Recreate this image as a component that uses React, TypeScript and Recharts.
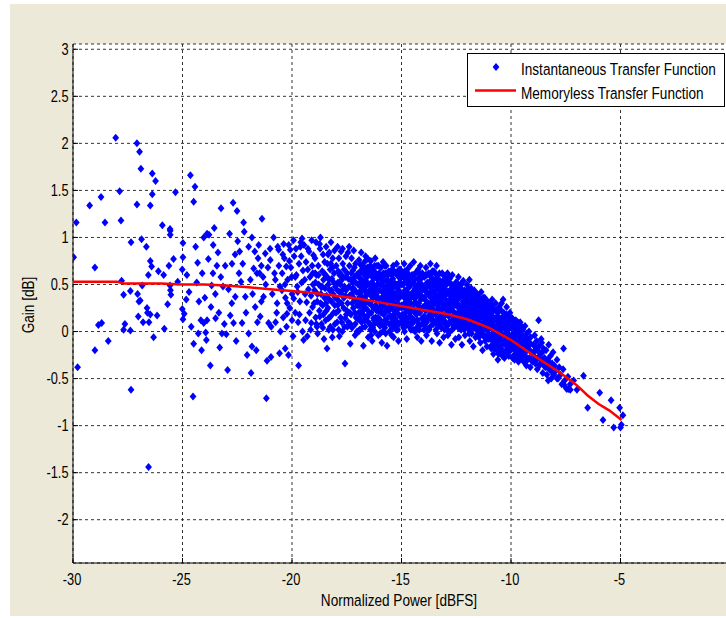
import { ScatterChart, Scatter, XAxis, YAxis, CartesianGrid, Legend } from 'recharts'

const FONT = '"Liberation Sans", Arial, sans-serif'

const xTicks = [-30, -25, -20, -15, -10, -5]
const yTicks = [-2, -1.5, -1, -0.5, 0, 0.5, 1, 1.5, 2, 2.5, 3]
const xDomain = [-30, 0]
const yDomain = [-2.46, 3.056]

const seriesNames = ['Instantaneous Transfer Function', 'Memoryless Transfer Function']

// sparse low-power points, [power dBFS, gain dB]
const sparsePoints: [number, number][] = [
  [-29.97, 0.79], [-29.85, 1.16], [-29.79, -0.38], [-29.24, 1.34], [-29.0, 0.68], [-29.0, -0.2], [-28.84, 0.07],
  [-28.69, 0.09], [-28.72, 1.43], [-28.54, 1.16], [-28.39, -0.1], [-28.05, 2.06], [-27.87, 1.49], [-27.81, 1.18],
  [-27.78, 0.54], [-27.69, 0.39], [-27.63, 0.08], [-27.69, 0.02], [-27.35, 0.95], [-27.38, 0.43], [-27.38, 0.01],
  [-27.35, -0.62], [-27.08, 2.0], [-26.96, 1.91], [-26.9, 1.73], [-27.08, 1.35], [-27.05, 0.4], [-26.99, 0.32],
  [-26.93, 0.33], [-27.02, 0.16], [-26.8, 0.1], [-26.87, 0.98], [-26.65, 0.9], [-26.84, 0.49], [-26.62, 0.25],
  [-26.6, 0.2], [-26.53, 0.1], [-26.47, 0.18], [-26.47, 0.75], [-26.41, 0.69], [-26.56, 0.6], [-26.47, 1.34],
  [-26.38, 1.46], [-26.38, 1.68], [-26.23, 1.6], [-26.32, -0.06], [-26.16, 0.17], [-26.1, 0.64], [-25.92, 1.13],
  [-25.86, 0.6], [-25.83, 0.03], [-25.68, 0.29], [-25.62, 0.7], [-25.56, 1.03], [-25.56, 1.07], [-25.57, 1.09],
  [-25.41, 0.77], [-25.57, 0.49], [-25.55, 0.44], [-25.53, 0.39], [-25.32, 1.48], [-25.22, 0.53], [-25.01, 0.66],
  [-26.55, -1.44],
  [-24.64, 1.66], [-24.43, 1.54], [-24.49, 1.38], [-24.98, 0.94], [-24.98, 0.79], [-25.01, 0.24], [-24.92, 0.19],
  [-24.98, 0.13], [-24.83, 0.34], [-24.52, -0.69], [-24.49, -0.13], [-24.28, -0.02], [-24.31, 0.73], [-24.13, -0.2],
  [-24.16, 0.12], [-24.25, 0.32], [-24.03, 1.0], [-24.03, 0.09], [-23.94, -0.01], [-23.91, -0.09], [-23.88, 0.12],
  [-23.82, 0.77], [-23.88, 1.04], [-23.79, 1.03], [-23.73, -0.36], [-23.67, 0.49], [-23.61, 0.62], [-23.55, 1.1],
  [-23.43, 0.7], [-23.49, 0.14], [-23.34, 0.2], [-23.3, -0.17], [-23.24, 1.31], [-23.15, 0.48], [-23.09, 0.08],
  [-24.8, 0.6], [-24.7, 0.42], [-24.6, 0.05], [-24.4, 0.9], [-24.35, 0.52], [-24.1, 0.62], [-23.98, 0.36],
  [-23.7, 0.26], [-23.6, 0.92], [-23.5, 0.4], [-23.38, 0.84], [-23.25, 0.58], [-23.2, -0.02], [-23.05, 0.7],
]

// medium density, -23 .. -19.5 dBFS
const midPoints: [number, number][] = [
  [-23.0, -0.03], [-22.94, -0.41], [-22.85, 1.04], [-22.82, 0.17], [-22.74, 0.72], [-22.69, 1.37], [-22.67, 0.09],
  [-22.59, 0.37], [-22.51, 1.28], [-22.48, 0.96], [-22.39, 0.85], [-22.33, 0.53], [-22.28, 0.09], [-22.21, 1.16],
  [-22.18, 1.06], [-22.13, 0.37], [-22.05, -0.25], [-21.98, -0.02], [-21.98, 0.9], [-21.87, -0.44], [-21.83, 1.0],
  [-21.83, -0.16], [-21.75, 0.67], [-21.68, 0.26], [-21.63, -0.2], [-21.52, 0.92], [-21.48, 0.62], [-21.45, 0.16],
  [-21.37, 1.2], [-21.32, 0.58], [-21.3, 0.37], [-21.22, 0.83], [-21.17, -0.71], [-21.14, -0.31], [-21.07, 0.09],
  [-20.99, 0.76], [-20.96, -0.27], [-20.84, 1.0], [-20.76, 0.55], [-20.68, 0.3], [-20.61, 0.87], [-20.57, -0.23],
  [-20.53, 0.0], [-20.46, 0.44], [-20.38, 0.93], [-20.31, -0.18], [-20.26, 0.69], [-20.23, 0.19], [-20.16, -0.25],
  [-20.08, 0.87], [-20.0, 0.12], [-19.93, 0.97], [-19.85, 0.58], [-19.7, -0.36], [-19.62, 0.9], [-19.54, 0.99],
  [-19.47, -0.09],
  [-22.9, 0.45], [-22.75, 0.3], [-22.6, 0.82], [-22.55, -0.1], [-22.42, 0.62], [-22.25, 0.72], [-22.1, 0.2],
  [-21.9, 0.55], [-21.7, 0.85], [-21.58, 0.1], [-21.4, 0.7], [-21.2, 0.5], [-21.1, 0.68], [-21.0, 0.88],
  [-20.95, 0.05], [-20.9, 0.4], [-20.8, 0.62], [-20.75, 0.1], [-20.7, 0.2], [-20.65, 0.9], [-20.6, 0.7],
  [-20.55, 0.48], [-21.55, 0.78], [-21.6, 0.62], [-21.8, 0.4], [-21.4, 0.32],
  [-20.45, 0.62], [-20.4, 0.15], [-20.35, 0.78], [-20.3, 0.36], [-20.25, 0.05], [-20.2, 0.55], [-20.15, 0.92],
  [-20.1, 0.25], [-20.05, 0.68], [-20.0, 0.4], [-19.95, -0.05], [-19.9, 0.8], [-19.85, 0.2], [-19.8, 0.6],
  [-19.76, 0.48], [-19.72, 0.1], [-19.68, 0.72], [-19.64, 0.32], [-19.6, 0.95], [-19.56, 0.52], [-19.52, 0.0],
  [-19.5, 0.65], [-20.42, 0.82], [-20.32, 0.5], [-20.22, 0.3], [-20.12, 0.75], [-20.02, 0.58], [-19.92, 0.35],
  [-19.82, 0.88], [-19.74, 0.42], [-19.66, 0.18], [-19.58, 0.8],
]

// dense cloud, -19.5 .. -14.5 dBFS
const denseLow: [number, number][] = [
  [-19.45, 0.92], [-19.42, 0.55], [-19.38, 0.12], [-19.36, 0.74], [-19.33, 0.31], [-19.3, -0.05], [-19.28, 0.66],
  [-19.25, 0.45], [-19.22, 0.85], [-19.2, 0.2], [-19.18, 0.58], [-19.15, 0.02], [-19.13, 0.38], [-19.1, 0.97],
  [-19.08, 0.7], [-19.06, 0.26], [-19.04, 0.5], [-19.02, 0.81], [-19.4, 0.4], [-19.12, 0.09], [-19.27, 0.88],
  [-19.05, 0.62],
  [-18.97, 0.44], [-18.95, 0.78], [-18.92, 0.15], [-18.9, 0.95], [-18.88, 0.6], [-18.85, 0.32], [-18.83, -0.02],
  [-18.8, 0.7], [-18.78, 0.5], [-18.75, 0.22], [-18.72, 0.88], [-18.7, 1.0], [-18.68, 0.4], [-18.65, 0.08],
  [-18.62, 0.64], [-18.6, 0.28], [-18.58, 0.82], [-18.56, 0.55], [-18.54, -0.08], [-18.52, 0.36], [-18.94, 0.62],
  [-18.86, 0.05], [-18.74, 0.93], [-18.66, 0.47], [-18.57, 0.18], [-18.51, 0.74],
  [-18.48, 0.6], [-18.46, 0.12], [-18.44, 0.9], [-18.42, 0.38], [-18.4, -0.18], [-18.38, 0.72], [-18.36, 0.25],
  [-18.34, 0.5], [-18.32, 0.02], [-18.3, 0.84], [-18.28, 0.44], [-18.26, 0.66], [-18.24, 0.16], [-18.22, 0.95],
  [-18.2, 0.32], [-18.18, 0.56], [-18.16, -0.06], [-18.14, 0.78], [-18.12, 0.4], [-18.1, 0.2], [-18.08, 0.62],
  [-18.06, 0.86], [-18.04, 0.08], [-18.02, 0.48], [-18.45, 0.3], [-18.35, 0.82], [-18.25, 0.05], [-18.15, 0.68],
  [-18.05, 0.28], [-18.3, 0.55],
  [-17.98, 0.7], [-17.96, 0.35], [-17.94, 0.1], [-17.92, 0.9], [-17.9, 0.52], [-17.88, 0.22], [-17.86, 0.78],
  [-17.84, -0.05], [-17.82, 0.42], [-17.8, 0.62], [-17.78, 0.15], [-17.76, 0.85], [-17.74, 0.3], [-17.72, 0.55],
  [-17.7, 0.0], [-17.68, 0.72], [-17.66, 0.45], [-17.64, 0.25], [-17.62, 0.66], [-17.6, 0.05], [-17.58, -0.34],
  [-17.56, 0.38], [-17.54, 0.8], [-17.52, 0.18], [-17.97, 0.5], [-17.91, 0.28], [-17.83, 0.6], [-17.75, 0.4],
  [-17.69, 0.88], [-17.61, 0.48], [-17.55, 0.58], [-17.87, 0.02],
  [-17.48, 0.62], [-17.46, 0.3], [-17.44, 0.84], [-17.42, 0.1], [-17.4, 0.48], [-17.38, 0.7], [-17.36, 0.2],
  [-17.34, -0.13], [-17.32, 0.55], [-17.3, 0.38], [-17.28, 0.78], [-17.26, 0.04], [-17.24, 0.45], [-17.22, 0.65],
  [-17.2, 0.25], [-17.18, 0.86], [-17.16, 0.35], [-17.14, 0.58], [-17.12, -0.04], [-17.1, 0.72], [-17.08, 0.15],
  [-17.06, 0.42], [-17.04, 0.6], [-17.02, 0.28], [-17.47, 0.05], [-17.39, 0.9], [-17.31, 0.18], [-17.23, 0.52],
  [-17.15, 0.68], [-17.07, 0.33], [-17.27, 0.4], [-17.11, 0.08],
  [-16.98, 0.5], [-16.96, 0.2], [-16.94, 0.76], [-16.92, 0.02], [-16.9, 0.4], [-16.88, 0.62], [-16.86, 0.3],
  [-16.84, 0.84], [-16.82, 0.1], [-16.8, 0.55], [-16.78, 0.36], [-16.76, 0.7], [-16.74, -0.15], [-16.72, 0.46],
  [-16.7, 0.24], [-16.68, 0.6], [-16.66, 0.05], [-16.64, 0.8], [-16.62, 0.32], [-16.6, 0.5], [-16.58, 0.15],
  [-16.56, 0.68], [-16.54, 0.4], [-16.52, -0.06], [-16.97, 0.35], [-16.89, 0.12], [-16.81, 0.66], [-16.73, 0.28],
  [-16.65, 0.44], [-16.57, 0.58], [-16.85, 0.48], [-16.69, 0.74],
  [-16.48, 0.3], [-16.46, 0.62], [-16.44, 0.08], [-16.42, 0.45], [-16.4, 0.75], [-16.38, 0.2], [-16.36, 0.52],
  [-16.34, -0.1], [-16.32, 0.36], [-16.3, 0.66], [-16.28, 0.14], [-16.26, 0.42], [-16.24, 0.58], [-16.22, 0.0],
  [-16.2, 0.78], [-16.18, 0.28], [-16.16, 0.48], [-16.14, 0.1], [-16.12, 0.7], [-16.1, 0.34], [-16.08, 0.55],
  [-16.06, -0.04], [-16.04, 0.22], [-16.02, 0.62], [-16.47, 0.5], [-16.39, 0.32], [-16.31, 0.04], [-16.23, 0.7],
  [-16.15, 0.4], [-16.07, 0.15], [-16.27, 0.25], [-16.11, 0.5],
  [-15.98, 0.44], [-15.96, 0.12], [-15.94, 0.68], [-15.92, 0.3], [-15.9, -0.12], [-15.88, 0.52], [-15.86, 0.2],
  [-15.84, 0.74], [-15.82, 0.38], [-15.8, 0.05], [-15.78, 0.6], [-15.76, 0.26], [-15.74, 0.46], [-15.72, -0.02],
  [-15.7, 0.7], [-15.68, 0.34], [-15.66, -0.15], [-15.64, 0.55], [-15.62, 0.15], [-15.6, 0.42], [-15.58, 0.64],
  [-15.56, 0.08], [-15.54, 0.3], [-15.52, 0.5], [-15.97, 0.58], [-15.89, 0.36], [-15.81, 0.18], [-15.73, 0.62],
  [-15.65, 0.4], [-15.57, 0.22], [-15.85, 0.0], [-15.69, 0.1],
  [-15.48, 0.36], [-15.46, 0.6], [-15.44, 0.1], [-15.42, 0.46], [-15.4, 0.24], [-15.38, 0.7], [-15.36, -0.06],
  [-15.34, 0.52], [-15.32, 0.3], [-15.3, 0.14], [-15.28, 0.62], [-15.26, 0.4], [-15.24, 0.02], [-15.22, 0.72],
  [-15.2, 0.2], [-15.18, 0.48], [-15.16, 0.34], [-15.14, -0.1], [-15.12, 0.58], [-15.1, 0.08], [-15.08, 0.42],
  [-15.06, 0.66], [-15.04, 0.26], [-15.02, 0.5], [-15.47, 0.16], [-15.39, 0.56], [-15.31, 0.4], [-15.23, 0.28],
  [-15.15, 0.62], [-15.07, 0.16], [-15.35, 0.05], [-15.19, 0.1],
  [-14.98, 0.38], [-14.96, 0.62], [-14.94, 0.12], [-14.92, 0.5], [-14.9, 0.26], [-14.88, 0.72], [-14.86, 0.0],
  [-14.84, 0.44], [-14.82, 0.2], [-14.8, 0.58], [-14.78, 0.32], [-14.76, -0.08], [-14.74, 0.66], [-14.72, 0.1],
  [-14.7, 0.46], [-14.68, 0.28], [-14.66, 0.55], [-14.64, 0.05], [-14.62, 0.38], [-14.6, 0.7], [-14.58, 0.16],
  [-14.56, 0.5], [-14.54, 0.24], [-14.52, 0.6], [-14.97, 0.18], [-14.89, 0.4], [-14.81, 0.06], [-14.73, 0.52],
  [-14.65, 0.34], [-14.57, 0.02], [-14.85, 0.64], [-14.69, 0.15],
]

// dense cloud, -14.5 .. -9 dBFS
const denseHigh: [number, number][] = [
  [-14.48, 0.42], [-14.46, 0.1], [-14.44, 0.74], [-14.42, 0.3], [-14.4, 0.55], [-14.38, 0.0], [-14.36, 0.36],
  [-14.34, 0.62], [-14.32, 0.18], [-14.3, 0.48], [-14.28, -0.06], [-14.26, 0.28], [-14.24, 0.66], [-14.22, 0.08],
  [-14.2, 0.4], [-14.18, 0.56], [-14.16, 0.2], [-14.14, 0.7], [-14.12, 0.34], [-14.1, -0.1], [-14.08, 0.5],
  [-14.06, 0.14], [-14.04, 0.44], [-14.02, 0.26], [-14.47, 0.6], [-14.39, 0.2], [-14.31, 0.04], [-14.23, 0.5],
  [-14.15, 0.38], [-14.07, 0.6], [-14.35, 0.45], [-14.19, 0.02],
  [-13.98, 0.36], [-13.96, 0.58], [-13.94, 0.06], [-13.92, 0.44], [-13.9, 0.22], [-13.88, 0.68], [-13.86, -0.04],
  [-13.84, 0.3], [-13.82, 0.52], [-13.8, 0.14], [-13.78, 0.4], [-13.76, 0.62], [-13.74, 0.02], [-13.72, 0.26],
  [-13.7, 0.48], [-13.68, 0.72], [-13.66, 0.16], [-13.64, 0.36], [-13.62, -0.1], [-13.6, 0.56], [-13.58, 0.2],
  [-13.56, 0.42], [-13.54, 0.08], [-13.52, 0.64], [-13.97, 0.16], [-13.89, 0.5], [-13.81, 0.28], [-13.73, 0.38],
  [-13.65, 0.58], [-13.57, 0.3], [-13.85, 0.1], [-13.69, 0.05],
  [-13.48, 0.3], [-13.46, 0.52], [-13.44, 0.1], [-13.42, 0.38], [-13.4, 0.7], [-13.38, -0.02], [-13.36, 0.24],
  [-13.34, 0.46], [-13.32, 0.6], [-13.3, 0.14], [-13.28, 0.34], [-13.26, -0.12], [-13.24, 0.54], [-13.22, 0.2],
  [-13.2, 0.42], [-13.18, 0.04], [-13.16, 0.3], [-13.14, 0.62], [-13.12, 0.16], [-13.1, 0.48], [-13.08, -0.06],
  [-13.06, 0.26], [-13.04, 0.4], [-13.02, 0.56], [-13.47, 0.2], [-13.39, 0.46], [-13.31, 0.06], [-13.23, 0.34],
  [-13.15, 0.52], [-13.07, 0.1], [-13.35, 0.28], [-13.19, 0.36],
  [-12.98, 0.34], [-12.96, 0.08], [-12.94, 0.5], [-12.92, 0.22], [-12.9, 0.62], [-12.88, -0.04], [-12.86, 0.4],
  [-12.84, 0.16], [-12.82, 0.3], [-12.8, 0.56], [-12.78, 0.0], [-12.76, 0.44], [-12.74, 0.24], [-12.72, -0.14],
  [-12.7, 0.36], [-12.68, 0.6], [-12.66, 0.12], [-12.64, 0.28], [-12.62, 0.48], [-12.6, 0.04], [-12.58, 0.2],
  [-12.56, 0.4], [-12.54, -0.08], [-12.52, 0.52], [-12.97, 0.44], [-12.89, 0.26], [-12.81, 0.1], [-12.73, 0.5],
  [-12.65, 0.34], [-12.57, 0.14], [-12.85, 0.58], [-12.69, 0.02],
  [-12.48, 0.3], [-12.46, 0.1], [-12.44, 0.46], [-12.42, 0.2], [-12.4, 0.58], [-12.38, -0.06], [-12.36, 0.36],
  [-12.34, 0.14], [-12.32, 0.26], [-12.3, 0.5], [-12.28, 0.02], [-12.26, 0.4], [-12.24, -0.14], [-12.22, 0.18],
  [-12.2, 0.32], [-12.18, 0.54], [-12.16, 0.06], [-12.14, 0.24], [-12.12, 0.44], [-12.1, -0.04], [-12.08, 0.12],
  [-12.06, 0.36], [-12.04, 0.2], [-12.02, 0.5], [-12.47, 0.38], [-12.39, 0.08], [-12.31, 0.42], [-12.23, 0.28],
  [-12.15, 0.16], [-12.07, 0.28],
  [-11.98, 0.26], [-11.96, 0.04], [-11.94, 0.4], [-11.92, 0.14], [-11.9, 0.55], [-11.88, -0.1], [-11.86, 0.3],
  [-11.84, 0.18], [-11.82, 0.46], [-11.8, -0.02], [-11.78, 0.22], [-11.76, 0.36], [-11.74, 0.08], [-11.72, -0.16],
  [-11.7, 0.28], [-11.68, 0.44], [-11.66, 0.12], [-11.64, 0.2], [-11.62, -0.06], [-11.6, 0.34], [-11.58, 0.02],
  [-11.56, 0.16], [-11.54, 0.4], [-11.52, 0.1], [-11.97, 0.34], [-11.85, 0.06], [-11.73, 0.3], [-11.61, 0.24],
  [-11.48, 0.22], [-11.46, 0.0], [-11.44, 0.34], [-11.42, 0.1], [-11.4, -0.12], [-11.38, 0.26], [-11.36, 0.42],
  [-11.34, 0.04], [-11.32, 0.16], [-11.3, -0.2], [-11.28, 0.3], [-11.26, 0.08], [-11.24, -0.04], [-11.22, 0.2],
  [-11.2, 0.36], [-11.18, -0.1], [-11.16, 0.12], [-11.14, 0.26], [-11.12, 0.02], [-11.1, -0.16], [-11.08, 0.18],
  [-11.06, 0.32], [-11.04, -0.02], [-11.02, 0.1], [-11.47, 0.14], [-11.35, 0.28], [-11.23, 0.06], [-11.11, 0.22],
  [-10.98, 0.16], [-10.96, -0.06], [-10.94, 0.28], [-10.92, 0.04], [-10.9, -0.18], [-10.88, 0.2], [-10.86, 0.34],
  [-10.84, -0.02], [-10.82, 0.1], [-10.8, -0.24], [-10.78, 0.24], [-10.76, 0.0], [-10.74, -0.12], [-10.72, 0.14],
  [-10.7, 0.3], [-10.68, -0.08], [-10.66, 0.06], [-10.64, -0.2], [-10.62, 0.2], [-10.6, -0.3], [-10.58, 0.1],
  [-10.56, -0.04], [-10.54, 0.26], [-10.52, -0.14], [-10.97, 0.1], [-10.85, 0.16], [-10.73, -0.04], [-10.61, 0.04],
  [-10.48, 0.1], [-10.46, -0.1], [-10.44, 0.22], [-10.42, -0.02], [-10.4, -0.22], [-10.38, 0.14], [-10.36, 0.34],
  [-10.34, -0.06], [-10.32, 0.04], [-10.3, -0.28], [-10.28, 0.18], [-10.26, -0.14], [-10.24, 0.08], [-10.22, -0.2],
  [-10.2, 0.26], [-10.18, -0.04], [-10.16, 0.12], [-10.14, -0.16], [-10.12, 0.02], [-10.1, -0.26], [-10.08, 0.16],
  [-10.06, -0.1], [-10.04, 0.06], [-10.02, -0.2], [-10.47, 0.02], [-10.27, 0.06],
  [-9.98, 0.04], [-9.96, -0.16], [-9.94, 0.14], [-9.92, -0.06], [-9.9, -0.26], [-9.88, 0.08], [-9.86, -0.12],
  [-9.84, -0.3], [-9.82, 0.02], [-9.8, -0.2], [-9.78, 0.12], [-9.76, -0.08], [-9.74, -0.24], [-9.72, 0.0],
  [-9.7, -0.16], [-9.68, 0.06], [-9.66, -0.32], [-9.64, -0.1], [-9.62, -0.02], [-9.6, -0.22], [-9.58, 0.1],
  [-9.56, -0.14], [-9.54, -0.28], [-9.52, -0.04],
  [-9.48, -0.1], [-9.46, 0.02], [-9.44, -0.22], [-9.42, -0.32], [-9.4, -0.06], [-9.38, -0.16], [-9.36, 0.06],
  [-9.34, -0.26], [-9.32, -0.12], [-9.3, -0.36], [-9.28, -0.02], [-9.26, -0.2], [-9.24, -0.3], [-9.22, -0.08],
  [-9.2, -0.16], [-9.18, 0.0], [-9.16, -0.28], [-9.14, -0.12], [-9.12, -0.38], [-9.1, -0.06], [-9.06, -0.22],
  [-9.02, -0.32],
]

// extra points filling the saturated core, -19 .. -8 dBFS
const denseCore: [number, number][] = [
  [-18.99, 0.3], [-18.93, 0.52], [-18.89, 0.08], [-18.84, 0.4], [-18.79, 0.6], [-18.73, 0.16], [-18.69, 0.3],
  [-18.63, 0.48], [-18.59, 0.04], [-18.53, 0.62], [-18.49, 0.46], [-18.43, 0.22], [-18.39, 0.58], [-18.33, 0.14],
  [-18.29, 0.34], [-18.23, 0.72], [-18.19, 0.44], [-18.13, 0.02], [-18.09, 0.52], [-18.03, 0.36],
  [-17.99, 0.2], [-17.93, 0.44], [-17.89, 0.64], [-17.85, 0.32], [-17.79, 0.5], [-17.73, 0.1], [-17.67, 0.58],
  [-17.63, 0.36], [-17.57, 0.14], [-17.53, 0.44], [-17.49, 0.22], [-17.43, 0.56], [-17.37, 0.38], [-17.33, 0.08],
  [-17.29, 0.62], [-17.25, 0.3], [-17.19, 0.46], [-17.13, 0.2], [-17.09, 0.52], [-17.03, 0.0],
  [-16.99, 0.13], [-16.95, 0.58], [-16.91, 0.27], [-16.87, 0.71], [-16.83, 0.45], [-16.79, 0.04], [-16.75, 0.53],
  [-16.71, 0.17], [-16.67, 0.37], [-16.63, 0.66], [-16.59, 0.24], [-16.55, 0.5], [-16.51, 0.1], [-16.93, 0.41],
  [-16.77, 0.22], [-16.61, 0.41], [-16.53, 0.77], [-16.87, 0.52], [-16.71, 0.62], [-16.95, 0.0],
  [-16.97, 0.62], [-16.9, 0.14], [-16.85, 0.2], [-16.8, 0.44], [-16.74, 0.34], [-16.68, 0.12], [-16.63, 0.54],
  [-16.57, 0.32], [-16.52, 0.64], [-16.46, 0.2], [-16.42, 0.02], [-16.36, 0.6], [-16.3, 0.46], [-16.24, 0.08],
  [-16.18, 0.38], [-16.1, 0.24],
  [-16.49, 0.18], [-16.45, 0.4], [-16.41, 0.6], [-16.37, 0.05], [-16.33, 0.27], [-16.29, 0.5], [-16.25, 0.12],
  [-16.21, 0.37], [-16.17, 0.62], [-16.13, 0.22], [-16.09, 0.44], [-16.05, 0.7], [-16.01, 0.08], [-16.43, 0.7],
  [-16.35, 0.43], [-16.19, 0.15], [-16.03, 0.35], [-16.27, 0.56], [-16.11, 0.6], [-16.39, -0.04],
  [-15.99, 0.26], [-15.95, 0.5], [-15.91, 0.08], [-15.87, 0.42], [-15.83, 0.62], [-15.79, 0.3], [-15.75, 0.12],
  [-15.71, 0.54], [-15.67, 0.22], [-15.63, 0.34], [-15.59, 0.5], [-15.55, 0.0], [-15.51, 0.16], [-15.93, 0.2],
  [-15.77, 0.7], [-15.61, 0.6], [-15.53, 0.4], [-15.85, 0.3], [-15.69, 0.46], [-15.97, -0.02],
  [-15.98, 0.06], [-15.92, 0.56], [-15.87, 0.26], [-15.82, 0.48], [-15.76, 0.04], [-15.7, 0.36], [-15.64, 0.24],
  [-15.58, 0.44], [-15.52, 0.26], [-15.46, 0.44], [-15.4, 0.34], [-15.34, 0.12], [-15.28, 0.48], [-15.22, 0.08],
  [-15.16, 0.24], [-15.1, 0.52],
  [-15.49, 0.52], [-15.45, 0.28], [-15.41, 0.04], [-15.37, 0.4], [-15.33, 0.64], [-15.29, 0.22], [-15.25, 0.5],
  [-15.21, 0.36], [-15.17, 0.02], [-15.13, 0.44], [-15.09, 0.28], [-15.05, 0.56], [-15.01, 0.1], [-15.43, 0.66],
  [-15.27, 0.12], [-15.11, 0.66], [-15.03, 0.38], [-15.35, 0.18], [-15.19, 0.6], [-15.45, -0.04],
  [-14.99, 0.5], [-14.95, 0.26], [-14.91, 0.04], [-14.87, 0.36], [-14.83, 0.56], [-14.79, 0.14], [-14.75, 0.42],
  [-14.71, 0.62], [-14.67, 0.22], [-14.63, 0.48], [-14.59, 0.3], [-14.55, 0.08], [-14.51, 0.4], [-14.93, 0.6],
  [-14.77, 0.24], [-14.61, 0.56], [-14.53, 0.14], [-14.85, 0.3], [-14.69, 0.38], [-14.97, 0.08],
  [-14.98, 0.28], [-14.92, 0.16], [-14.86, 0.52], [-14.8, 0.1], [-14.74, 0.32], [-14.68, 0.5], [-14.62, 0.2],
  [-14.56, 0.36], [-14.5, 0.12], [-14.44, 0.24], [-14.38, 0.46], [-14.32, 0.3], [-14.26, 0.12], [-14.2, 0.5],
  [-14.14, 0.24], [-14.06, 0.36],
  [-14.49, 0.24], [-14.45, 0.52], [-14.41, 0.12], [-14.37, 0.62], [-14.33, 0.4], [-14.29, 0.2], [-14.25, 0.56],
  [-14.21, 0.3], [-14.17, 0.06], [-14.13, 0.46], [-14.09, 0.24], [-14.05, 0.62], [-14.01, 0.1], [-14.43, 0.36],
  [-14.27, 0.42], [-14.11, 0.56], [-14.03, 0.36], [-14.35, 0.02], [-14.19, 0.62], [-14.47, 0.02],
  [-13.99, 0.48], [-13.95, 0.26], [-13.91, 0.6], [-13.87, 0.14], [-13.83, 0.4], [-13.79, 0.02], [-13.75, 0.5],
  [-13.71, 0.18], [-13.67, 0.42], [-13.63, 0.26], [-13.59, 0.64], [-13.55, 0.12], [-13.51, 0.36], [-13.93, 0.34],
  [-13.77, 0.3], [-13.61, 0.48], [-13.53, 0.5], [-13.85, 0.6], [-13.69, 0.6], [-13.97, 0.02],
  [-13.98, 0.26], [-13.92, 0.1], [-13.86, 0.46], [-13.8, 0.24], [-13.74, 0.52], [-13.68, 0.3], [-13.62, 0.12],
  [-13.56, 0.5], [-13.5, 0.22], [-13.44, 0.44], [-13.38, 0.3], [-13.32, 0.1], [-13.26, 0.4], [-13.2, 0.14],
  [-13.14, 0.4], [-13.06, 0.5],
  [-13.49, 0.42], [-13.45, 0.18], [-13.41, 0.56], [-13.37, 0.12], [-13.33, 0.34], [-13.29, 0.5], [-13.25, 0.24],
  [-13.21, 0.06], [-13.17, 0.46], [-13.13, 0.3], [-13.09, 0.6], [-13.05, 0.16], [-13.01, 0.44], [-13.43, 0.02],
  [-13.27, 0.62], [-13.11, 0.38], [-13.03, 0.02], [-13.35, 0.52], [-13.19, 0.22], [-13.47, 0.62],
  [-12.99, 0.18], [-12.95, 0.4], [-12.91, 0.06], [-12.87, 0.52], [-12.83, 0.26], [-12.79, 0.44], [-12.75, 0.1],
  [-12.71, 0.5], [-12.67, 0.22], [-12.63, 0.4], [-12.59, 0.32], [-12.55, 0.08], [-12.51, 0.3], [-12.93, 0.3],
  [-12.77, 0.34], [-12.61, 0.16], [-12.53, 0.44], [-12.85, 0.0], [-12.69, 0.46], [-12.97, 0.56],
  [-12.98, 0.1], [-12.92, 0.42], [-12.86, 0.2], [-12.8, 0.1], [-12.74, 0.38], [-12.68, 0.28], [-12.62, 0.06],
  [-12.56, 0.28], [-12.5, 0.44], [-12.44, 0.1], [-12.38, 0.28], [-12.32, 0.4], [-12.26, 0.2], [-12.2, 0.06],
  [-12.14, 0.36], [-12.06, 0.1],
  [-12.49, 0.18], [-12.45, 0.34], [-12.41, 0.04], [-12.37, 0.48], [-12.33, 0.22], [-12.29, 0.38], [-12.25, 0.1],
  [-12.21, 0.44], [-12.17, 0.28], [-12.13, 0.02], [-12.09, 0.4], [-12.05, 0.26], [-12.01, 0.08], [-12.43, 0.26],
  [-12.27, 0.5], [-12.11, 0.32], [-12.03, 0.42], [-12.35, 0.46], [-12.19, 0.14], [-12.47, 0.52],
  [-11.99, 0.16], [-11.95, 0.3], [-11.91, -0.02], [-11.87, 0.4], [-11.83, 0.1], [-11.79, 0.32], [-11.75, 0.2],
  [-11.71, 0.04], [-11.67, 0.36], [-11.63, 0.12], [-11.59, 0.26], [-11.55, -0.04], [-11.51, 0.3], [-11.93, 0.46],
  [-11.77, 0.42], [-11.61, 0.4], [-11.53, 0.2], [-11.85, 0.22], [-11.69, 0.18], [-11.97, 0.04],
  [-11.98, 0.44], [-11.92, 0.24], [-11.86, 0.0], [-11.8, 0.28], [-11.74, 0.16], [-11.68, 0.06], [-11.62, 0.32],
  [-11.56, 0.08], [-11.5, 0.22], [-11.44, 0.06], [-11.38, 0.34], [-11.32, 0.0], [-11.26, 0.14], [-11.2, 0.26],
  [-11.14, 0.04], [-11.06, 0.12],
  [-11.49, 0.1], [-11.45, 0.26], [-11.41, 0.02], [-11.37, 0.18], [-11.33, 0.32], [-11.29, 0.08], [-11.25, 0.22],
  [-11.21, -0.06], [-11.17, 0.16], [-11.13, 0.3], [-11.09, 0.06], [-11.05, 0.2], [-11.01, -0.08], [-11.43, 0.36],
  [-11.27, 0.36], [-11.11, -0.08], [-11.03, 0.28], [-11.39, -0.04], [-11.19, 0.28], [-11.47, -0.06],
  [-10.99, 0.04], [-10.95, 0.2], [-10.91, -0.08], [-10.87, 0.1], [-10.83, 0.24], [-10.79, -0.12], [-10.75, 0.14],
  [-10.71, 0.02], [-10.67, 0.22], [-10.63, -0.1], [-10.59, 0.16], [-10.55, 0.04], [-10.51, -0.2], [-10.93, -0.16],
  [-10.77, -0.18], [-10.61, -0.02], [-10.53, 0.12], [-10.89, 0.28], [-10.69, -0.16], [-10.57, -0.24],
  [-10.98, 0.22], [-10.91, 0.12], [-10.85, -0.08], [-10.79, 0.06], [-10.72, -0.1], [-10.66, 0.14], [-10.59, -0.08],
  [-10.52, 0.04], [-10.45, -0.18], [-10.38, 0.08], [-10.31, -0.12], [-10.24, 0.02], [-10.17, 0.04], [-10.08, -0.04],
  [-10.49, -0.04], [-10.45, 0.14], [-10.41, -0.14], [-10.37, 0.04], [-10.33, 0.2], [-10.29, -0.08], [-10.25, 0.12],
  [-10.21, -0.02], [-10.17, -0.22], [-10.13, 0.08], [-10.09, -0.1], [-10.05, 0.2], [-10.01, -0.06], [-10.43, 0.3],
  [-10.27, -0.22], [-10.11, -0.14], [-10.03, 0.1], [-10.39, -0.26], [-10.19, 0.18], [-10.47, -0.18],
  [-9.99, -0.1], [-9.95, 0.06], [-9.91, -0.16], [-9.87, -0.02], [-9.83, -0.2], [-9.79, 0.04], [-9.75, -0.14],
  [-9.71, -0.04], [-9.67, -0.2], [-9.63, 0.02], [-9.59, -0.12], [-9.55, -0.02], [-9.51, -0.18], [-9.93, -0.28],
  [-9.77, -0.26], [-9.61, -0.28], [-9.53, 0.06], [-9.89, 0.12], [-9.69, 0.1], [-9.57, -0.24],
  [-9.97, -0.04], [-9.9, -0.1], [-9.83, 0.06], [-9.76, -0.18], [-9.69, -0.08], [-9.62, -0.16], [-9.55, -0.08],
  [-9.48, -0.24], [-9.41, -0.14], [-9.33, -0.2], [-9.25, -0.1], [-9.15, -0.2],
  [-8.97, -0.22], [-8.91, -0.16], [-8.84, -0.3], [-8.78, -0.2], [-8.72, -0.28], [-8.64, -0.34], [-8.57, -0.22],
  [-8.5, -0.36], [-8.42, -0.3], [-8.35, -0.38], [-8.26, -0.32], [-8.18, -0.42],
]

// high-power tail, -9 .. -4.8 dBFS
const tailPoints: [number, number][] = [
  [-8.98, -0.14], [-8.95, -0.26], [-8.92, -0.04], [-8.89, -0.34], [-8.86, -0.2], [-8.83, -0.1], [-8.8, -0.4],
  [-8.77, -0.28], [-8.74, 0.12], [-8.74, -0.16], [-8.7, -0.36], [-8.66, -0.24], [-8.62, -0.08], [-8.58, -0.3],
  [-8.55, -0.44], [-8.52, -0.18], [-8.9, -0.3], [-8.6, -0.12],
  [-8.47, -0.28], [-8.43, -0.38], [-8.4, -0.2], [-8.36, -0.46], [-8.32, -0.3], [-8.28, -0.14], [-8.24, -0.4],
  [-8.2, -0.26], [-8.16, -0.5], [-8.12, -0.34], [-8.08, -0.22], [-8.05, -0.46], [-8.3, -0.52], [-8.02, -0.36],
  [-7.96, -0.42], [-7.9, -0.3], [-7.85, -0.5], [-7.8, -0.38], [-7.74, -0.46], [-7.68, -0.56], [-7.62, -0.4],
  [-7.6, -0.18], [-7.55, -0.52], [-7.48, -0.6], [-7.45, -0.61], [-7.4, -0.48], [-7.3, -0.56], [-7.29, -0.62],
  [-7.9, -0.5], [-7.6, -0.56], [-7.37, -0.61], [-7.14, -0.52], [-6.99, -0.62],
  [-6.69, -0.47], [-5.95, -0.65], [-6.5, -0.81], [-5.43, -0.73], [-5.8, -0.94], [-5.04, -0.81], [-4.89, -0.89],
  [-5.31, -1.02], [-5.0, -1.02], [-4.96, -0.99],
]

// memoryless AM/AM curve
const memPower = [-30, -28, -27.7, -26, -25, -24, -23, -22, -21, -20, -19, -18, -17, -16, -15, -14, -13, -12, -11, -10, -9, -8, -7.5, -7, -6.5, -6, -5.5, -4.95]
const memGain = [0.53, 0.53, 0.51, 0.51, 0.5, 0.5, 0.49, 0.47, 0.45, 0.43, 0.41, 0.38, 0.35, 0.31, 0.27, 0.23, 0.19, 0.13, 0.04, -0.09, -0.25, -0.4, -0.48, -0.57, -0.68, -0.77, -0.84, -0.94]

const instData = [...sparsePoints, ...midPoints, ...denseLow, ...denseHigh, ...denseCore, ...tailPoints].map(([x, y]) => ({ power: x, gain: y }))
const memData = memPower.map((p, i) => ({ power: p, gain: memGain[i] }))

// narrow text: MATLAB's helvetica is condensed, so squeeze Liberation Sans a bit
const NText = ({ x, y, size, anchor = 'middle', rotate, baseline = 'central', children }: any) => (
  <text
    transform={`translate(${x} ${y})${rotate ? ` rotate(${rotate})` : ''} scale(0.8 1)`}
    textAnchor={anchor}
    dominantBaseline={baseline}
    fontFamily={FONT}
    fontSize={size}
    fill="#000"
  >
    {children}
  </text>
)

const Diamond = ({ cx, cy }: any) => (
  <path d={`M${cx},${cy - 4}L${cx + 3.4},${cy}L${cx},${cy + 4}L${cx - 3.4},${cy}Z`} fill="#0000ff" />
)

const XTick = ({ x, y, payload }: any) => (
  <g>
    <line x1={x} x2={x} y1={y} y2={y - 5} stroke="#000" />
    <NText x={x - 1} y={y + 16} size={16}>{payload.value}</NText>
  </g>
)

const TopTick = ({ x, y }: any) => <line x1={x} x2={x} y1={y} y2={y + 5} stroke="#000" />

const YTick = ({ x, y, payload }: any) => (
  <g>
    <line x1={x} x2={x + 5} y1={y} y2={y} stroke="#000" />
    <NText x={x - 4.5} y={y} size={16} anchor="end">{payload.value}</NText>
  </g>
)

const LegendBox = () => (
  <svg width={258} height={54} style={{ display: 'block' }}>
    <rect x={0.5} y={0.5} width={257} height={53} fill="#fff" stroke="#000" />
    <path d="M29,10L32.4,14L29,18L25.6,14Z" fill="#0000ff" />
    <NText x={54} y={22} size={17} anchor="start" baseline="alphabetic">{seriesNames[0]}</NText>
    <line x1={8} x2={49} y1={37.5} y2={37.5} stroke="#ff0000" strokeWidth={2.5} />
    <NText x={54} y={46} size={17} anchor="start" baseline="alphabetic">{seriesNames[1]}</NText>
  </svg>
)

export default function App() {
  return (
    <div style={{ position: 'fixed', left: 0, top: 0, width: 726, height: 618, overflow: 'hidden', background: '#fff' }}>
      <div style={{ position: 'absolute', left: 10, top: 4, width: 716, height: 612, background: '#ece9d8' }} />
      <div style={{ position: 'absolute', left: 0, top: 0 }}>
        <ScatterChart width={760} height={618} margin={{ top: 44, right: 30, bottom: 0, left: 0 }}>
          <CartesianGrid fill="#fff" stroke="#333" strokeDasharray="3 3" />
          <XAxis
            dataKey="power"
            type="number"
            domain={xDomain}
            ticks={xTicks}
            allowDataOverflow
            height={55}
            tickSize={0}
            tickMargin={0}
            axisLine={{ stroke: '#000' }}
            tickLine={false}
            tick={<XTick />}
            label={{ content: () => <NText x={399} y={600} size={17}>Normalized Power [dBFS]</NText> }}
          />
          <XAxis
            xAxisId="top"
            orientation="top"
            type="number"
            domain={xDomain}
            ticks={xTicks}
            allowDataOverflow
            height={0}
            tickSize={0}
            tickMargin={0}
            axisLine={{ stroke: '#000' }}
            tickLine={false}
            tick={<TopTick />}
            label={{ content: () => <NText x={401} y={25} size={17}>AM/AM</NText> }}
          />
          <YAxis
            dataKey="gain"
            type="number"
            domain={yDomain}
            ticks={yTicks}
            allowDataOverflow
            width={73}
            tickSize={0}
            tickMargin={0}
            axisLine={{ stroke: '#000' }}
            tickLine={false}
            tick={<YTick />}
            label={{ content: () => <NText x={28} y={305} size={17} rotate={-90}>Gain [dB]</NText> }}
          />
          <Legend
            layout="horizontal"
            verticalAlign="middle"
            align="center"
            wrapperStyle={{ left: 467, top: 53, width: 258, height: 54 }}
            content={() => <LegendBox />}
          />
          <Scatter name={seriesNames[0]} data={instData} fill="#0000ff" shape={<Diamond />} isAnimationActive={false} />
          <Scatter
            name={seriesNames[1]}
            data={memData}
            fill="#ff0000"
            line={{ stroke: '#ff0000', strokeWidth: 2.5 }}
            shape={() => <g />}
            isAnimationActive={false}
          />
        </ScatterChart>
      </div>
    </div>
  )
}
